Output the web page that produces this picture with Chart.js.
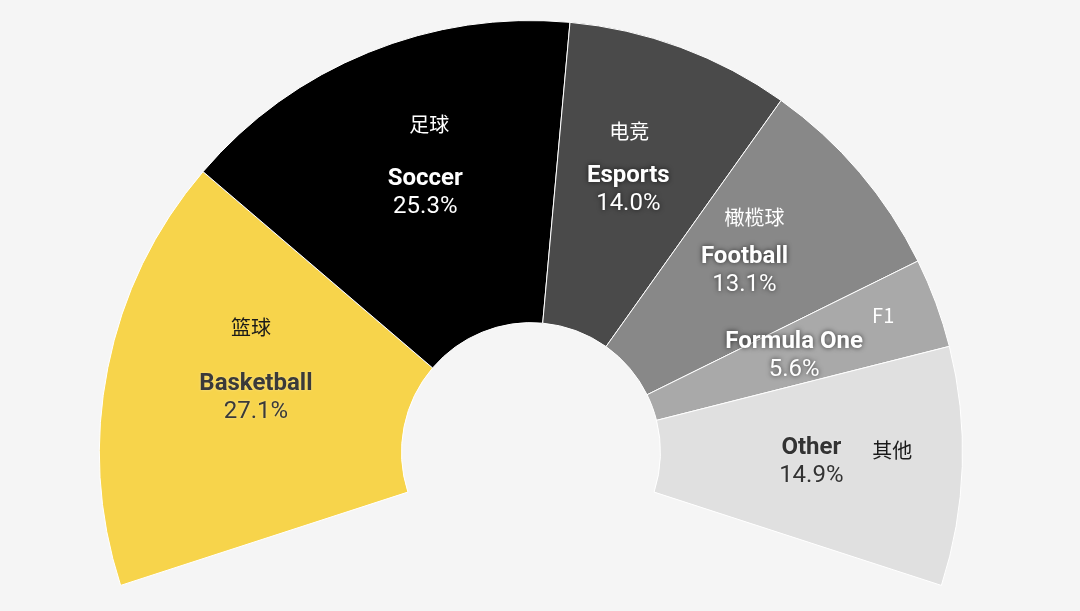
<!DOCTYPE html>
<html>
<head>
<meta charset="utf-8">
<script src="https://cdn.jsdelivr.net/npm/chart.js@4/dist/chart.umd.min.js"></script>
<style>
html,body{margin:0;padding:0;background:#f5f5f5;}
#wrap{width:1080px;height:611px;position:relative;}
</style>
</head>
<body>
<div id="wrap"><canvas id="c" width="1080" height="611"></canvas></div>
<script>
// ---- data ----
const categories = ["Basketball", "Soccer", "Esports", "Football", "Formula One", "Other"];
const chineseNames = ["篮球", "足球", "电竞", "橄榄球", "F1", "其他"];
const shares = [27.1, 25.3, 14.0, 13.1, 5.6, 14.9];

// ---- styles ----
const sliceColors = ["#f7d44b", "#000000", "#4a4a4a", "#888888", "#a9a9a9", "#e0e0e0"];
const textColors = ["#3a3a3a", "#ffffff", "#ffffff", "#ffffff", "#ffffff", "#333333"];
const zhColors = ["#1a1a1a", "#ffffff", "#ffffff", "#ffffff", "#ffffff", "#1a1a1a"];
const textShadow = [false, true, true, true, true, false];
// offset of the Chinese name relative to the slice's label anchor
const zhOffsets = [[-5, -70], [4, -68], [1, -58], [10, -53], [89, -40], [81, -11]];

const labelPlugin = {
  id: 'sliceLabels',
  afterDatasetsDraw(chart) {
    const ctx = chart.ctx;
    const meta = chart.getDatasetMeta(0);
    meta.data.forEach((arc, i) => {
      const p = arc.getCenterPoint();
      ctx.save();
      ctx.textAlign = 'center';
      ctx.textBaseline = 'middle';
      if (textShadow[i]) {
        ctx.shadowColor = 'rgba(0,0,0,0.7)';
        ctx.shadowBlur = 5;
      } else {
        ctx.shadowColor = 'rgba(255,255,255,0.35)';
        ctx.shadowBlur = 3;
      }
      ctx.fillStyle = textColors[i];
      ctx.font = 'bold 24px Roboto';
      ctx.fillText(categories[i], p.x, p.y - 13);
      ctx.font = '24px Roboto';
      ctx.fillText(shares[i].toFixed(1) + '%', p.x, p.y + 15);
      ctx.shadowColor = 'transparent';
      ctx.shadowBlur = 0;
      ctx.fillStyle = zhColors[i];
      ctx.font = '20px "Noto Sans CJK SC", Roboto';
      ctx.fillText(chineseNames[i], p.x + zhOffsets[i][0], p.y + zhOffsets[i][1]);
      ctx.restore();
    });
  }
};

new Chart(document.getElementById('c'), {
  type: 'doughnut',
  data: {
    labels: categories,
    datasets: [{
      data: shares,
      backgroundColor: sliceColors,
      borderColor: '#ffffff',
      borderWidth: 1
    }]
  },
  options: {
    responsive: false,
    animation: false,
    rotation: -108,
    circumference: 216,
    cutout: '30%',
    layout: { padding: { left: 99, right: 117, top: 20, bottom: 25 } },
    plugins: { legend: { display: false }, tooltip: { enabled: false } }
  },
  plugins: [labelPlugin]
});
</script>
</body>
</html>
